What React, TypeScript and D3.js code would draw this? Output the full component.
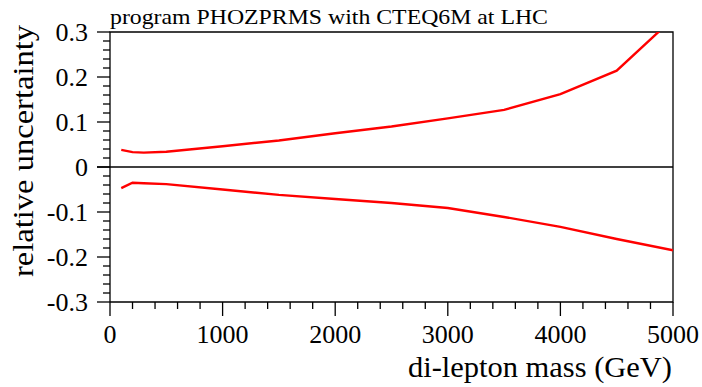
import { useEffect, useRef } from 'react';
import * as d3 from 'd3';

// di-lepton mass points (GeV)
const massPoints = [100, 200, 300, 500, 1000, 1500, 2000, 2500, 3000, 3500, 4000, 4500, 5000];
// upper and lower relative uncertainty band
const upperValues = [0.038, 0.033, 0.032, 0.034, 0.046, 0.059, 0.075, 0.09, 0.108, 0.127, 0.162, 0.214, 0.33];
const lowerValues = [-0.047, -0.035, -0.036, -0.038, -0.05, -0.062, -0.071, -0.08, -0.091, -0.111, -0.133, -0.16, -0.185];

const xTicks = [0, 1000, 2000, 3000, 4000, 5000];
const yTicks = [-0.3, -0.2, -0.1, 0, 0.1, 0.2, 0.3];

export default function App() {
  const ref = useRef<SVGSVGElement>(null);

  useEffect(() => {
    if (!ref.current) return;
    const svg = d3.select(ref.current);
    svg.selectAll('*').remove();

    const left = 110, right = 673, top = 32, bottom = 302;
    const x = d3.scaleLinear().domain([0, 5000]).range([left, right]);
    const y = d3.scaleLinear().domain([-0.3, 0.3]).range([bottom, top]);
    const font = "'Liberation Serif', 'DejaVu Serif', serif";

    svg.append('defs').append('clipPath').attr('id', 'plotClip')
      .append('rect').attr('x', left).attr('y', top).attr('width', right - left).attr('height', bottom - top);

    const axes = svg.append('g').attr('stroke', '#000').attr('stroke-width', 1.3).attr('fill', 'none');
    // frame
    axes.append('path').attr('d', `M${left},${bottom}V${top}H${right}V${bottom}H${left}`);
    // zero line
    axes.append('line').attr('x1', left - 13).attr('x2', right).attr('y1', y(0)).attr('y2', y(0));

    // y ticks
    d3.range(-0.3, 0.3001, 0.02).forEach((v) => {
      const major = Math.abs(Math.round(v * 10) - v * 10) < 1e-6;
      axes.append('line').attr('x1', left - (major ? 13 : 7)).attr('x2', left).attr('y1', y(v)).attr('y2', y(v));
    });
    // x ticks
    d3.range(0, 5001, 200).forEach((v) => {
      const major = v % 1000 === 0;
      axes.append('line').attr('x1', x(v)).attr('x2', x(v)).attr('y1', bottom).attr('y2', bottom + (major ? 14 : 7));
    });

    svg.append('g').selectAll('text').data(yTicks).join('text')
      .attr('x', 88).attr('y', (d) => y(d) + 8.5)
      .attr('text-anchor', 'end').style('font-family', font).attr('font-size', 26)
      .text((d) => (d === 0 ? '0' : d.toFixed(1)));

    svg.append('g').selectAll('text').data(xTicks).join('text')
      .attr('x', (d) => x(d)).attr('y', 343)
      .attr('text-anchor', 'middle').style('font-family', font).attr('font-size', 26)
      .text((d) => String(d));

    const line = d3.line<number>().x((_, i) => x(massPoints[i])).y((d) => y(d));
    const curves = svg.append('g').attr('clip-path', 'url(#plotClip)');
    [upperValues, lowerValues].forEach((vals) => {
      curves.append('path').datum(vals).attr('d', line).attr('fill', 'none')
        .attr('stroke', '#ff0000').attr('stroke-width', 2.4);
    });

    svg.append('text').attr('x', 110).attr('y', 24).style('font-family', font).attr('font-size', 22)
      .attr('textLength', 438).attr('lengthAdjust', 'spacingAndGlyphs')
      .text('program PHOZPRMS with CTEQ6M at LHC');
    svg.append('text').attr('x', 408).attr('y', 377)
      .style('font-family', font).attr('font-size', 30)
      .attr('textLength', 264).attr('lengthAdjust', 'spacingAndGlyphs').text('di-lepton mass (GeV)');
    svg.append('text').attr('transform', 'translate(33,277) rotate(-90)')
      .style('font-family', font).attr('font-size', 29)
      .attr('textLength', 252).attr('lengthAdjust', 'spacingAndGlyphs').text('relative uncertainty');
  }, []);

  return (
    <svg ref={ref} width={702} height={387}
      style={{ position: 'absolute', left: 0, top: 0, background: '#fff' }} />
  );
}
